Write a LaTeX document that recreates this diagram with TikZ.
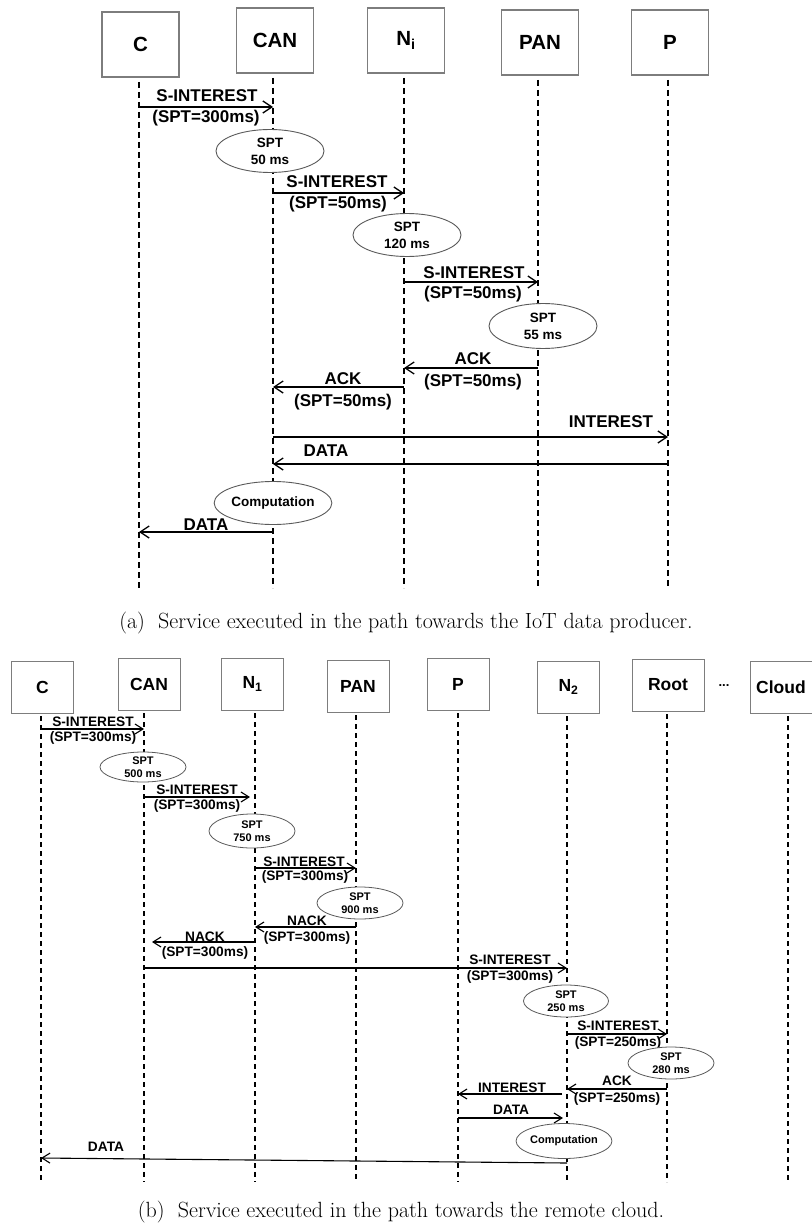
\documentclass[tikz,border=0pt]{standalone}
\usepackage{fontspec}
\newfontfamily\arialf{Liberation Sans}
\usetikzlibrary{arrows.meta,shapes.geometric}
\definecolor{boxgray}{RGB}{125,125,125}
\definecolor{ellgray}{RGB}{90,90,90}
\begin{document}
\begin{tikzpicture}[x=1pt,y=-1pt,
 boxA/.style={draw=boxgray, line width=1.1pt, minimum width=77pt, minimum height=65pt, inner sep=0pt, font=\fontsize{20.5}{22}\selectfont\arialf\bfseries},
 boxB/.style={draw=boxgray, line width=1pt, minimum width=62pt, minimum height=52pt, inner sep=0pt, font=\fontsize{17.5}{19}\selectfont\arialf\bfseries},
 lifeA/.style={line width=1.3pt, dash pattern=on 6pt off 4pt},
 lifeB/.style={line width=1.1pt, dash pattern=on 5pt off 4pt},
 msgA/.style={line width=1.3pt, -{Straight Barb[length=9pt,width=12pt]}},
 msgB/.style={line width=1.1pt, -{Straight Barb[length=8pt,width=10pt]}},
 labA/.style={font=\fontsize{17}{19}\selectfont\arialf\bfseries, inner sep=0pt},
 labB/.style={font=\fontsize{13.7}{15}\selectfont\arialf\bfseries, inner sep=0pt},
 ellA/.style={ellipse, draw=ellgray, line width=0.9pt, minimum width=108pt, minimum height=43pt, inner sep=0pt, align=center, fill=white, font=\fontsize{13.5}{17}\selectfont\arialf\bfseries},
 ellB/.style={ellipse, draw=ellgray, line width=0.8pt, minimum width=86pt, minimum height=32pt, inner sep=0pt, align=center, fill=white, font=\fontsize{11}{13}\selectfont\arialf\bfseries},
 captext/.style={font=\fontsize{22}{26}\selectfont, inner sep=0pt}]
\useasboundingbox (0,0) rectangle (811,1225);

% ---------------- (a) ----------------
\node[boxA] (C) at (140.5,44.5) {C};
\node[boxA] (CAN) at (275,40.5) {CAN};
\node[boxA] (Ni) at (406,40.5) {N\textsubscript{i}};
\node[boxA] (PAN) at (540,42.5) {PAN};
\node[boxA] (P) at (670,42.5) {P};

\coordinate (aC) at (139,82);
\coordinate (aCAN) at (273,78);
\coordinate (aNi) at (404,78);
\coordinate (aPAN) at (538,80);
\coordinate (aP) at (668,80);
\foreach \n in {aC,aCAN,aNi,aPAN,aP} \draw[lifeA] (\n) -- (\n |- 0,588);

\draw[msgA] (aC |- 0,107) -- (aCAN |- 0,107);
\node[labA] (a1) at (207,96) {S-INTEREST};
\node[labA] (a1s) at (206,118) {(SPT=300ms)};
\node[ellA] (ae1) at (270,151) {SPT\\50 ms};

\draw[msgA] (aCAN |- 0,193) -- (aNi |- 0,193);
\node[labA] (a2) at (337,182) {S-INTEREST};
\node[labA] (a2s) at (338,204) {(SPT=50ms)};
\node[ellA] (ae2) at (407,235) {SPT\\120 ms};

\draw[msgA] (aNi |- 0,282) -- (aPAN |- 0,282);
\node[labA] (a3) at (474,273) {S-INTEREST};
\node[labA] (a3s) at (473,294) {(SPT=50ms)};
\node[ellA, minimum height=45pt] (ae3) at (543,326) {SPT\\55 ms};

\draw[msgA] (aPAN |- 0,368) -- (aNi |- 0,368);
\node[labA] (a4) at (473,359) {ACK};
\node[labA] (a4s) at (473,382) {(SPT=50ms)};

\draw[msgA] (aNi |- 0,387) -- (aCAN |- 0,387);
\node[labA] (a5) at (343,379) {ACK};
\node[labA] (a5s) at (343,402) {(SPT=50ms)};

\draw[msgA] (aCAN |- 0,437) -- (aP |- 0,437);
\node[labA] (a6) at (611,422) {INTEREST};

\draw[msgA] (aP |- 0,464) -- (aCAN |- 0,464);
\node[labA] (a7) at (326,451) {DATA};

\node[ellA, minimum width=107pt] (ae4) at (273,503) {Computation};

\draw[msgA] (aCAN |- 0,532) -- (aC |- 0,532);
\node[labA] (a8) at (206,525) {DATA};

\node[captext] (capA) at (406,623) {(a)\hspace{0.6em}Service executed in the path towards the IoT data producer.};

% ---------------- (b) ----------------
\node[boxB] (bCb) at (42.5,687) {C};
\node[boxB] (bCANb) at (149,684) {CAN};
\node[boxB] (bN1b) at (252.5,684) {N\textsubscript{1}};
\node[boxB] (bPANb) at (358,686) {PAN};
\node[boxB] (bPb) at (458,684) {P};
\node[boxB] (bN2b) at (568.5,687) {N\textsubscript{2}};
\node[boxB, minimum width=72pt] (bRootb) at (668,685) {Root};
\node[font=\fontsize{13}{15}\selectfont\arialf\bfseries, inner sep=0pt] (dots) at (724,686) {...};
\node[boxB] (bCloudb) at (781,687) {Cloud};

\coordinate (bC) at (41,716);
\coordinate (bCAN) at (144,713);
\coordinate (bN1) at (255,713);
\coordinate (bPAN) at (356,715);
\coordinate (bP) at (458,713);
\coordinate (bN2) at (567,716);
\coordinate (bRoot) at (667,714);
\coordinate (bCloud) at (788,716);
\foreach \n in {bC,bCAN,bN1,bPAN,bP,bN2,bRoot,bCloud} \draw[lifeB] (\n) -- (\n |- 0,1182);

\draw[msgB] (bC |- 0,729) -- (bCAN |- 0,729);
\node[labB] (b1) at (93,722) {S-INTEREST};
\node[labB] (b1s) at (93,738) {(SPT=300ms)};
\node[ellB, minimum height=30pt] (be1) at (143,767) {SPT\\500 ms};

\draw[msgB, shorten >=5pt] (bCAN |- 0,797) -- (bN1 |- 0,797);
\node[labB] (b2) at (197,790) {S-INTEREST};
\node[labB] (b2s) at (197,806) {(SPT=300ms)};
\node[ellB, minimum height=34pt] (be2) at (252,831) {SPT\\750 ms};

\draw[msgB] (bN1 |- 0,868) -- (bPAN |- 0,868);
\node[labB] (b3) at (304,862) {S-INTEREST};
\node[labB] (b3s) at (305,877) {(SPT=300ms)};
\node[ellB] (be3) at (360,903) {SPT\\900 ms};

\draw[msgB] (bPAN |- 0,927) -- (bN1 |- 0,927);
\node[labB] (b4) at (307,921) {NACK};
\node[labB] (b4s) at (307,938) {(SPT=300ms)};

\draw[msgB, shorten >=8pt] (bN1 |- 0,942) -- (bCAN |- 0,942);
\node[labB] (b5) at (205,937) {NACK};
\node[labB] (b5s) at (205,953) {(SPT=300ms)};

\draw[msgB] (bCAN |- 0,968) -- (bN2 |- 0,968);
\node[labB] (b6) at (510,960) {S-INTEREST};
\node[labB] (b6s) at (510,977) {(SPT=300ms)};
\node[ellB, minimum width=85pt] (be4) at (566,1001) {SPT\\250 ms};

\draw[msgB] (bN2 |- 0,1034) -- (bRoot |- 0,1034);
\node[labB] (b7) at (618,1026) {S-INTEREST};
\node[labB] (b7s) at (618,1043) {(SPT=250ms)};
\node[ellB] (be5) at (671,1063) {SPT\\280 ms};

\draw[msgB] (bRoot |- 0,1089) -- (bN2 |- 0,1089);
\node[labB] (b8) at (617,1081) {ACK};
\node[labB] (b8s) at (617,1099) {(SPT=250ms)};

\draw[msgB, shorten <=5pt] (bN2 |- 0,1094) -- (bP |- 0,1094);
\node[labB] (b9) at (512,1088) {INTEREST};

\draw[msgB, shorten >=4pt] (bP |- 0,1118) -- (bN2 |- 0,1118);
\node[labB] (b10) at (511,1110) {DATA};

\node[ellB, minimum width=88pt, minimum height=35pt] (be6) at (564,1141) {Computation};

\draw[msgB] (bN2 |- 0,1163) -- (bC |- 0,1158);
\node[labB] (b11) at (106,1147) {DATA};

\node[captext] (capB) at (401,1212) {(b)\hspace{0.6em}Service executed in the path towards the remote cloud.};
\end{tikzpicture}
\end{document}
